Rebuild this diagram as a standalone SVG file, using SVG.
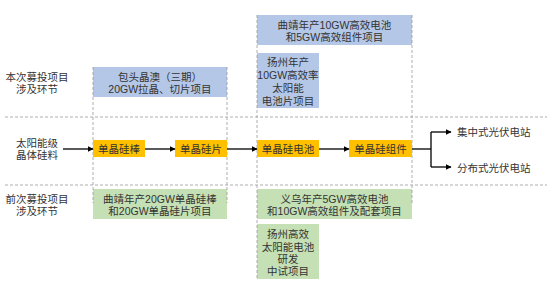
<svg xmlns="http://www.w3.org/2000/svg" width="558" height="290" viewBox="0 0 558 290">
<defs>
<style>
text{font-family:"Liberation Sans","Noto Sans CJK SC",sans-serif;font-size:10.5px;fill:#333;text-anchor:middle;dominant-baseline:central}
.blue{fill:#B4C7E7}
.green{fill:#C5E0B4}
.yellow{fill:#FFC000}
.dash{stroke:#999;stroke-width:0.8;stroke-dasharray:3,2;fill:none}
.conn{stroke:#000;stroke-width:1.3;fill:none}
</style>
<marker id="ah" viewBox="0 0 10 10" refX="9" refY="5" markerWidth="6" markerHeight="6" markerUnits="userSpaceOnUse" orient="auto">
<path d="M0,0 L10,5 L0,10 z" fill="#000"/>
</marker>
</defs>
<rect width="558" height="290" fill="#fff"/>

<g id="guides">
<line class="dash" x1="5" y1="117" x2="547" y2="117"/>
<line class="dash" x1="5" y1="185" x2="547" y2="185"/>
</g>

<g id="labels">
<text x="37" y="77">本次募投项目</text>
<text x="37" y="89">涉及环节</text>
<text x="37" y="143">太阳能级</text>
<text x="37" y="155">晶体硅料</text>
<text x="37" y="199">前次募投项目</text>
<text x="37" y="211">涉及环节</text>
</g>

<g id="baotou"><rect class="blue" x="93" y="67" width="134" height="30"/>
<text x="160" y="77">包头晶澳（三期）</text><text x="160" y="89">20GW拉晶、切片项目</text></g>

<g id="qujing-cell"><rect class="blue" x="257" y="15" width="155" height="30"/>
<text x="334.5" y="25">曲靖年产10GW高效电池</text><text x="334.5" y="37">和5GW高效组件项目</text></g>

<g id="yangzhou-cell"><rect class="blue" x="257" y="53" width="62" height="55"/>
<text x="288" y="62">扬州年产</text><text x="288" y="75">10GW高效率</text><text x="288" y="88">太阳能</text><text x="288" y="101">电池片项目</text></g>

<g id="qujing-ingot"><rect class="green" x="93" y="189" width="134" height="30"/>
<text x="160" y="198.5">曲靖年产20GW单晶硅棒</text><text x="160" y="211">和20GW单晶硅片项目</text></g>

<g id="yiwu"><rect class="green" x="257" y="189" width="155" height="30"/>
<text x="334.5" y="198.5">义乌年产5GW高效电池</text><text x="334.5" y="211">和10GW高效组件及配套项目</text></g>

<g id="yangzhou-rd"><rect class="green" x="257" y="224" width="62" height="55"/>
<text x="288" y="234">扬州高效</text><text x="288" y="247">太阳能电池</text><text x="288" y="259">研发</text><text x="288" y="271">中试项目</text></g>

<g id="cols">
<line class="dash" x1="93" y1="67" x2="93" y2="203"/>
<line class="dash" x1="227" y1="67" x2="227" y2="203"/>
<line class="dash" x1="257" y1="15" x2="257" y2="279"/>
<line class="dash" x1="412" y1="15" x2="412" y2="203"/>
</g>

<g id="ingot"><rect class="yellow" x="93" y="140" width="52" height="17"/><text x="119" y="148.5">单晶硅棒</text></g>
<g id="wafer"><rect class="yellow" x="175" y="140" width="52" height="17"/><text x="201" y="148.5">单晶硅片</text></g>
<g id="cell"><rect class="yellow" x="257" y="140" width="62" height="17"/><text x="288" y="148.5">单晶硅电池</text></g>
<g id="module"><rect class="yellow" x="349" y="140" width="63" height="17"/><text x="380.5" y="148.5">单晶硅组件</text></g>

<g id="central"><text x="457" y="132" style="text-anchor:start">集中式光伏电站</text></g>
<g id="distributed"><text x="457" y="168" style="text-anchor:start">分布式光伏电站</text></g>

<g id="connectors">
<line class="conn" x1="63" y1="149" x2="93" y2="149" marker-end="url(#ah)"/>
<line class="conn" x1="145" y1="149" x2="175" y2="149" marker-end="url(#ah)"/>
<line class="conn" x1="227" y1="149" x2="257" y2="149" marker-end="url(#ah)"/>
<line class="conn" x1="319" y1="149" x2="349" y2="149" marker-end="url(#ah)"/>
<path class="conn" d="M412,149 H431"/>
<path class="conn" d="M431,132 V167"/>
<path class="conn" d="M431,132 H451" marker-end="url(#ah)"/>
<path class="conn" d="M431,167 H451" marker-end="url(#ah)"/>
</g>
</svg>
